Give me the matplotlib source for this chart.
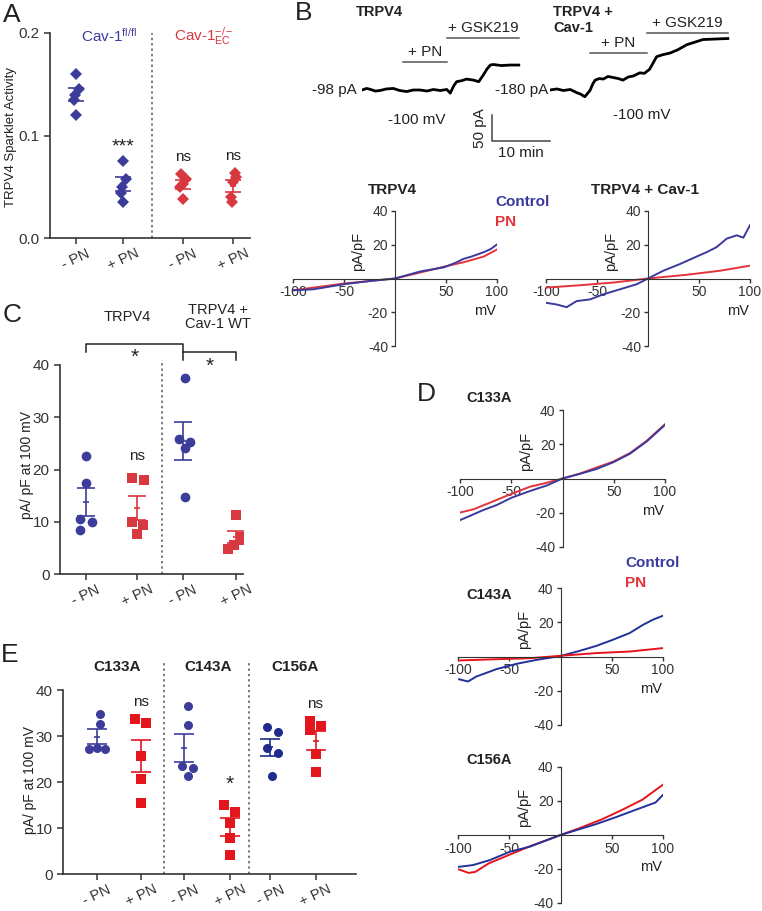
import numpy as np
import matplotlib
matplotlib.use('Agg')
import matplotlib.pyplot as plt
import matplotlib.transforms as mtransforms

plt.rcParams['font.family'] = ['Liberation Sans', 'DejaVu Sans']
plt.rcParams['mathtext.fontset'] = 'custom'
plt.rcParams['mathtext.rm'] = 'Liberation Sans'
plt.rcParams['mathtext.it'] = 'Liberation Sans:italic'
plt.rcParams['mathtext.bf'] = 'Liberation Sans:bold'
plt.rcParams['axes.unicode_minus'] = False
plt.rcParams['text.color'] = '#222222'
plt.rcParams['axes.edgecolor'] = '#333333'
plt.rcParams['xtick.color'] = '#333333'
plt.rcParams['ytick.color'] = '#333333'

# ---------------- data ----------------
pn_labels = ['- PN', '+ PN']

# A: sparklet activity
a_flfl_ctrl = [0.160, 0.145, 0.140, 0.135, 0.120]
a_flfl_pn = [0.075, 0.058, 0.050, 0.044, 0.035]
a_ec_ctrl = [0.062, 0.058, 0.053, 0.050, 0.038]
a_ec_pn = [0.063, 0.060, 0.055, 0.040, 0.035]
a_stars = ['***', 'ns', 'ns']

# B top: whole-cell current at -100 mV (min, pA)
tr1_t = [0, 0.8, 1.5, 2.3, 3.1, 4.2, 5.4, 6.5, 7.7, 8.8, 10.0, 11.2, 12.3, 13.5, 14.6, 15.2,
         15.8, 16.3, 17.2, 18.0, 19.2, 20.1, 20.9, 21.5, 22.1, 22.6, 24.0, 25.5, 27.0]
tr1_i = [-98, -95, -97, -100, -99, -96, -95, -99, -101, -98, -98, -100, -97, -99, -97, -104,
         -90, -82, -80, -77, -79, -82, -69, -58, -50, -49, -51, -50, -50]
tr2_t = [0, 1.2, 2.3, 3.5, 4.6, 5.3, 6.0, 6.9, 7.4, 7.8, 8.5, 9.2, 10.0, 10.9, 11.8, 12.6,
         13.5, 14.4, 15.5, 16.3, 17.2, 17.8, 18.4, 19.5, 20.7, 22.0, 22.8, 23.6, 25.0, 26.4, 28.5, 30.7]
tr2_i = [-180, -178, -181, -179, -185, -188, -193, -181, -168, -161, -158, -159, -154, -156,
         -158, -161, -155, -153, -147, -148, -140, -128, -116, -112, -109, -103, -98, -93,
         -88, -83, -82, -81]
tr1_base, tr2_base = -98, -180
tr1_pn, tr1_gsk = (7.1, 14.7), (14.7, 27.0)
tr2_pn, tr2_gsk = (6.9, 16.7), (16.7, 30.7)

# B bottom: I-V (mV, pA/pF)
ivb1_ctrl_v = [-100, -80, -50, -25, 0, 25, 48, 60, 67, 75, 87, 94, 100]
ivb1_ctrl_i = [-7, -6.4, -3.4, -1.5, 0, 4.2, 6.6, 9.5, 11.6, 13.0, 15.6, 17.5, 20.2]
ivb1_pn_v = [-100, -80, -50, -25, 0, 25, 48, 67, 87, 100]
ivb1_pn_i = [-7, -5.4, -3.0, -1.5, 0, 3.6, 7.0, 9.6, 13.0, 17.2]
ivb2_ctrl_v = [-100, -89.5, -79.7, -70, -56.9, -43.8, -27.5, -11.1, 0, 15, 31.4, 47.7, 57.5, 67.3, 77.1, 87, 93.5, 100]
ivb2_ctrl_i = [-14.4, -15.4, -17, -13.4, -12.4, -9.4, -6.4, -3.4, 0, 4.6, 8.6, 13, 15.6, 18.6, 23.6, 25.6, 24.2, 31.6]
ivb2_pn_v = [-100, -66.7, -34, 0, 37.9, 70.6, 100]
ivb2_pn_i = [-5.4, -4.0, -2.4, 0, 2.2, 4.6, 7.6]

# D: mutant I-V
c133_ctrl_v = [-100, -90.2, -77.2, -64.2, -49.6, -31.7, -15.4, 0, 17, 33.3, 49.6, 65.9, 82.1, 100]
c133_ctrl_i = [-24.3, -21.8, -18.4, -15.5, -11.2, -7.3, -4.1, 0, 2.7, 5.6, 9.5, 14.5, 21.6, 31.3]
c133_pn_v = [-100, -87, -70.7, -51.2, -31.7, -15.4, 0, 17, 49.6, 65.9, 82.1, 100]
c133_pn_i = [-19.9, -18.0, -14.1, -9.3, -4.8, -2.5, 0, 2.9, 9.9, 14.9, 22.0, 31.7]
c143_ctrl_v = [-99, -90.2, -82.1, -62.6, -43.1, -23.6, 0.8, 18.7, 35, 51.2, 67.5, 80.5, 90.2, 100]
c143_ctrl_i = [-13.3, -14.6, -11.7, -7.4, -4.3, -2.0, 0.4, 3.3, 6.2, 9.8, 13.7, 18.5, 21.5, 23.8]
c143_pn_v = [-99, -62.6, -30.1, 0, 35, 67.5, 100]
c143_pn_i = [-2.3, -1.6, -1.0, 0.4, 2.0, 2.9, 4.9]
c156_ctrl_v = [-99, -85.4, -69.1, -49.6, -30.1, 0, 17.9, 34.1, 53.7, 73.2, 92.7, 100]
c156_ctrl_i = [-18.7, -17.7, -14.8, -9.9, -6.9, 0, 3.3, 6.3, 10.4, 14.8, 19.1, 23.6]
c156_pn_v = [-99, -89.6, -83.1, -70, -50.6, -31, 0, 18, 40.7, 60.2, 79.7, 100]
c156_pn_i = [-20.3, -22.3, -21.7, -16.7, -11.8, -6.9, 0, 3.9, 9.3, 14.8, 20.7, 29.6]

# C: pA/pF at 100 mV
c_trpv4_ctrl = [22.6, 17.5, 10.6, 10.0, 8.5]
c_trpv4_pn = [18.3, 17.9, 9.9, 9.4, 7.7]
c_cav1_ctrl = [37.6, 25.8, 25.3, 24.2, 14.7]
c_cav1_pn = [11.3, 7.1, 6.6, 5.5, 4.7]

# E: mutants pA/pF at 100 mV
e_c133_ctrl = [34.7, 32.7, 27.5, 27.2, 27.2]
e_c133_pn = [33.6, 32.9, 25.7, 20.7, 15.4]
e_c143_ctrl = [36.6, 32.4, 23.5, 23.0, 21.3]
e_c143_pn = [15.0, 13.5, 11.1, 7.8, 4.1]
e_c156_ctrl = [31.9, 30.8, 27.3, 26.4, 21.4]
e_c156_pn = [33.3, 32.2, 31.3, 26.1, 22.1]
e_groups = ['C133A', 'C143A', 'C156A']

# ---------------- style ----------------
BLUE = '#3c3c9a'
BLUE2 = '#1f2c8c'
RED = '#d8383f'
RED2 = '#e3161d'
IVBLUE = '#3a3a9e'
IVRED = '#e2343a'

W, H = 762, 911
fig = plt.figure(figsize=(W / 100, H / 100), dpi=100)


def px_box(l, t, r, b):
    return [l / W, 1 - b / H, (r - l) / W, (b - t) / H]


def ftext(x, y, s, **kw):
    kw.setdefault('ha', 'center')
    kw.setdefault('va', 'center')
    kw.setdefault('fontsize', 10)
    fig.text(x / W, 1 - y / H, s, **kw)


def sem(v):
    v = np.asarray(v)
    return v.std(ddof=1) / np.sqrt(len(v))


def dot_group(ax, x, vals, offs, color, marker, ms, cap):
    vals = np.asarray(vals)
    m, s = vals.mean(), sem(vals)
    ax.errorbar(x, m, yerr=s, fmt='none', ecolor=color, elinewidth=1.2,
                capsize=cap, capthick=1.2, zorder=2)
    ax.plot(x, m, marker='_', ms=4, color=color, mew=1.2, zorder=2)
    ax.plot(x + np.asarray(offs), vals, ls='none', marker=marker, ms=ms,
            color=color, mew=0, zorder=3)


def dot_axes(box, xlim, ylim, yticks, yfmt):
    ax = fig.add_axes(px_box(*box))
    ax.set_xlim(*xlim)
    ax.set_ylim(*ylim)
    ax.spines['top'].set_visible(False)
    ax.spines['right'].set_visible(False)
    ax.spines['left'].set_linewidth(1.2)
    ax.spines['bottom'].set_linewidth(1.2)
    ax.set_yticks(yticks)
    ax.set_yticklabels([yfmt.format(v) for v in yticks])
    ax.tick_params(direction='out', length=4, width=1.1, labelsize=11)
    ax.patch.set_visible(False)
    return ax


def xlabels(ax, pos, labels):
    ax.set_xticks(pos)
    ax.set_xticklabels(labels, rotation=25, ha='center', fontsize=10.5)
    ax.tick_params(axis='x', pad=2)


def vline(ax, x, top):
    tr = mtransforms.blended_transform_factory(ax.transData, ax.transAxes)
    ax.plot([x, x], [0, top], transform=tr, ls=(0, (1.5, 2)), color='#555555',
            lw=1.1, clip_on=False)


def iv_axes(box):
    ax = fig.add_axes(px_box(*box))
    ax.set_xlim(-100, 100)
    ax.set_ylim(-40, 40)
    ax.spines['left'].set_position(('data', 0))
    ax.spines['bottom'].set_position(('data', 0))
    ax.spines['top'].set_visible(False)
    ax.spines['right'].set_visible(False)
    ax.set_xticks([-100, -50, 50, 100])
    ax.set_yticks([-40, -20, 20, 40])
    ax.tick_params(direction='out', length=3, width=1, labelsize=10, pad=2)
    ax.patch.set_visible(False)
    ax.text(88, -19, 'mV', ha='center', va='center', fontsize=10.5)
    ax.text(-36, 16, 'pA/pF', ha='center', va='center', rotation=90, fontsize=10.5)
    return ax


def iv_curves(ax, cv, ci, pv, pi, cblue=IVBLUE, cred=IVRED, red_top=False):
    zc, zp = (2.2, 2.4) if red_top else (2.4, 2.2)
    ax.plot(pv, pi, color=cred, lw=1.4, zorder=zp)
    ax.plot(cv, ci, color=cblue, lw=1.4, zorder=zc)


# ---------------- panel A ----------------
pos_a = [0, 0.94, 2.14, 3.14]
axA = dot_axes((50, 33, 250, 238), (-0.52, 3.48), (0, 0.2), [0.0, 0.1, 0.2], '{:.1f}')
a_sets = [a_flfl_ctrl, a_flfl_pn, a_ec_ctrl, a_ec_pn]
a_offs = [[0, 0.05, -0.02, -0.05, 0], [0, 0.05, -0.03, -0.05, 0],
          [-0.04, 0.05, 0, -0.06, 0], [0.04, 0.05, 0, -0.04, -0.02]]
a_cols = [BLUE, BLUE, RED, RED]
for x, v, o, c in zip(pos_a, a_sets, a_offs, a_cols):
    dot_group(axA, x, v, o, c, 'D', 6, 6)
xlabels(axA, pos_a, pn_labels * 2)
vline(axA, 1.52, 1.0)
axA.text(pos_a[1], 0.089, a_stars[0], ha='center', va='center', fontsize=14)
axA.text(pos_a[2], 0.079, a_stars[1], ha='center', va='center', fontsize=11)
axA.text(pos_a[3], 0.080, a_stars[2], ha='center', va='center', fontsize=11)
axA.text(0.66, 0.197, r'Cav-1$^{\mathrm{fl/fl}}$', color=BLUE, ha='center', va='center', fontsize=11)
axA.text(2.56, 0.197, r'Cav-1$_{\mathrm{EC}}^{\mathrm{-/-}}$', color=RED, ha='center', va='center', fontsize=11)
ftext(11, 137, 'TRPV4 Sparklet Activity', rotation=90, fontsize=9.5)

# ---------------- panel B top (traces) ----------------
span = 134.6
axT1 = fig.add_axes(px_box(362, 20, 560, 160))
axT1.set_xlim(0, 34.1)
axT1.set_ylim(tr1_base - span, tr1_base + span)
axT2 = fig.add_axes(px_box(550, 20, 740, 160))
axT2.set_xlim(0, 32.8)
axT2.set_ylim(tr2_base - span, tr2_base + span)
for ax in (axT1, axT2):
    ax.axis('off')
    ax.patch.set_visible(False)
axT1.plot(tr1_t, tr1_i, color='black', lw=2.0)
axT2.plot(tr2_t, tr2_i, color='black', lw=2.0)


def drug_bar(ax, t, y, label):
    ax.plot(t, [y, y], color='#555555', lw=1.1)
    ax.annotate(label, ((t[0] + t[1]) / 2, y), xytext=(0, 2), textcoords='offset points',
                ha='center', va='bottom', fontsize=11)


drug_bar(axT1, tr1_pn, tr1_base + 53.8, '+ PN')
drug_bar(axT1, tr1_gsk, tr1_base + 100, '+ GSK219')
drug_bar(axT2, tr2_pn, tr2_base + 71, '+ PN')
drug_bar(axT2, tr2_gsk, tr2_base + 110, '+ GSK219')
axT1.text(-0.9, tr1_base, f'{tr1_base} pA', ha='right', va='center', fontsize=11)
axT2.text(-0.3, tr2_base, f'{tr2_base} pA', ha='right', va='center', fontsize=11)
axT1.text(9.5, tr1_base - 58, '-100 mV', ha='center', va='center', fontsize=11)
axT2.text(15.9, tr2_base - 48, '-100 mV', ha='center', va='center', fontsize=11)
# scale bar 50 pA / 10 min
sb_t, sb_i = 22.4, tr1_base - 98
axT1.plot([sb_t, sb_t, sb_t + 10], [sb_i + 50, sb_i, sb_i], color='#444444', lw=1.1)
axT1.text(sb_t - 0.9, sb_i + 25, '50 pA', rotation=90, ha='right', va='center', fontsize=11)
axT1.text(sb_t + 5, sb_i - 23, '10 min', ha='center', va='center', fontsize=11)
ftext(356, 12, 'TRPV4', ha='left', fontweight='bold', fontsize=10.5)
ftext(553, 20, 'TRPV4 +\nCav-1', ha='left', fontweight='bold', fontsize=10.5, linespacing=1.15)

# ---------------- panel B bottom (I-V) ----------------
axB1 = iv_axes((293, 211, 497, 346))
iv_curves(axB1, ivb1_ctrl_v, ivb1_ctrl_i, ivb1_pn_v, ivb1_pn_i)
axB2 = iv_axes((546, 211, 750, 346))
iv_curves(axB2, ivb2_ctrl_v, ivb2_ctrl_i, ivb2_pn_v, ivb2_pn_i)
ftext(392, 190, 'TRPV4', fontweight='bold', fontsize=11)
ftext(645, 190, 'TRPV4 + Cav-1', fontweight='bold', fontsize=11)
ftext(495, 202, 'Control', ha='left', color=IVBLUE, fontweight='bold', fontsize=11)
ftext(495, 222, 'PN', ha='left', color=IVRED, fontweight='bold', fontsize=11)

# ---------------- panel C ----------------
pos_c = [0, 1.02, 1.94, 3.0]
axC = dot_axes((60, 365, 243, 574), (-0.52, 3.14), (0, 40), [0, 10, 20, 30, 40], '{:d}')
c_sets = [c_trpv4_ctrl, c_trpv4_pn, c_cav1_ctrl, c_cav1_pn]
c_offs = [[0, 0, -0.12, 0.12, -0.12], [-0.1, 0.13, -0.11, 0.12, 0],
          [0.03, -0.09, 0.15, 0.03, 0.03], [0, 0.1, 0.13, -0.05, -0.15]]
c_cols = [BLUE, RED, BLUE, RED]
c_mk = ['o', 's', 'o', 's']
for x, v, o, c, m in zip(pos_c, c_sets, c_offs, c_cols, c_mk):
    dot_group(axC, x, v, o, c, m, 7, 6.5)
xlabels(axC, pos_c, pn_labels * 2)
vline(axC, 1.52, 1.024)
axC.plot([pos_c[0], pos_c[0], pos_c[2], pos_c[2]], [42.5, 44.0, 44.0, 41.0],
         color='#222222', lw=1.1, clip_on=False)
axC.plot([pos_c[2], pos_c[3], pos_c[3]], [42.5, 42.5, 41.0], color='#222222', lw=1.1, clip_on=False)
axC.text((pos_c[0] + pos_c[2]) / 2, 41.5, '*', ha='center', va='center', fontsize=15)
axC.text((pos_c[2] + pos_c[3]) / 2, 39.8, '*', ha='center', va='center', fontsize=15)
axC.text(pos_c[1], 22.6, 'ns', ha='center', va='center', fontsize=11)
ftext(127, 317, 'TRPV4', fontsize=10.5)
ftext(218, 317, 'TRPV4 +\nCav-1 WT', fontsize=10.5, linespacing=1.0)
ftext(27, 465, 'pA/ pF at 100 mV', rotation=90, fontsize=10)

# ---------------- panel D ----------------
axD1 = iv_axes((460, 410, 665, 547))
iv_curves(axD1, c133_ctrl_v, c133_ctrl_i, c133_pn_v, c133_pn_i)
axD2 = iv_axes((458, 588, 663, 725))
iv_curves(axD2, c143_ctrl_v, c143_ctrl_i, c143_pn_v, c143_pn_i, '#23319a', '#e8141c', red_top=True)
axD3 = iv_axes((458, 767, 663, 903))
iv_curves(axD3, c156_ctrl_v, c156_ctrl_i, c156_pn_v, c156_pn_i, '#23319a', '#e8141c')
ftext(466, 398, 'C133A', ha='left', fontweight='bold', fontsize=10.5)
ftext(466, 595, 'C143A', ha='left', fontweight='bold', fontsize=10.5)
ftext(466, 760, 'C156A', ha='left', fontweight='bold', fontsize=10.5)
ftext(625, 563, 'Control', ha='left', color=IVBLUE, fontweight='bold', fontsize=11)
ftext(625, 583, 'PN', ha='left', color=IVRED, fontweight='bold', fontsize=11)

# ---------------- panel E ----------------
pos_e = [0, 1, 1.99, 3.03, 3.94, 4.97]
axE = dot_axes((63, 690, 356, 874), (-0.77, 5.89), (0, 40), [0, 10, 20, 30, 40], '{:d}')
e_sets = [e_c133_ctrl, e_c133_pn, e_c143_ctrl, e_c143_pn, e_c156_ctrl, e_c156_pn]
e_offs = [[0.06, 0.06, 0, -0.19, 0.19], [-0.13, 0.12, 0, 0, 0],
          [0.08, 0.08, -0.06, 0.19, 0.08], [-0.13, 0.12, 0, 0, 0],
          [-0.08, 0.17, -0.08, 0.17, 0.05], [-0.13, 0.13, -0.13, 0, 0]]
e_cols = [BLUE, RED2, BLUE, RED2, BLUE2, RED2]
e_mk = ['o', 's'] * 3
for x, v, o, c, m in zip(pos_e, e_sets, e_offs, e_cols, e_mk):
    dot_group(axE, x, v, o, c, m, 6.5, 7.5)
xlabels(axE, pos_e, pn_labels * 3)
vline(axE, 1.52, 1.152)
vline(axE, 3.45, 1.152)
axE.text(pos_e[1], 37.5, 'ns', ha='center', va='center', fontsize=11)
axE.text(pos_e[3], 19.5, '*', ha='center', va='center', fontsize=15)
axE.text(pos_e[5], 36.9, 'ns', ha='center', va='center', fontsize=11)
for xc, g in zip([117, 208, 295], e_groups):
    ftext(xc, 667, g, fontweight='bold', fontsize=11)
ftext(30, 780, 'pA/ pF at 100 mV', rotation=90, fontsize=10)

# panel letters
for x, y, s in [(12, 15, 'A'), (304, 13, 'B'), (12, 315, 'C'), (426, 394, 'D'), (10, 655, 'E')]:
    ftext(x, y, s, fontsize=19)

fig.savefig('out.png', dpi=100)
